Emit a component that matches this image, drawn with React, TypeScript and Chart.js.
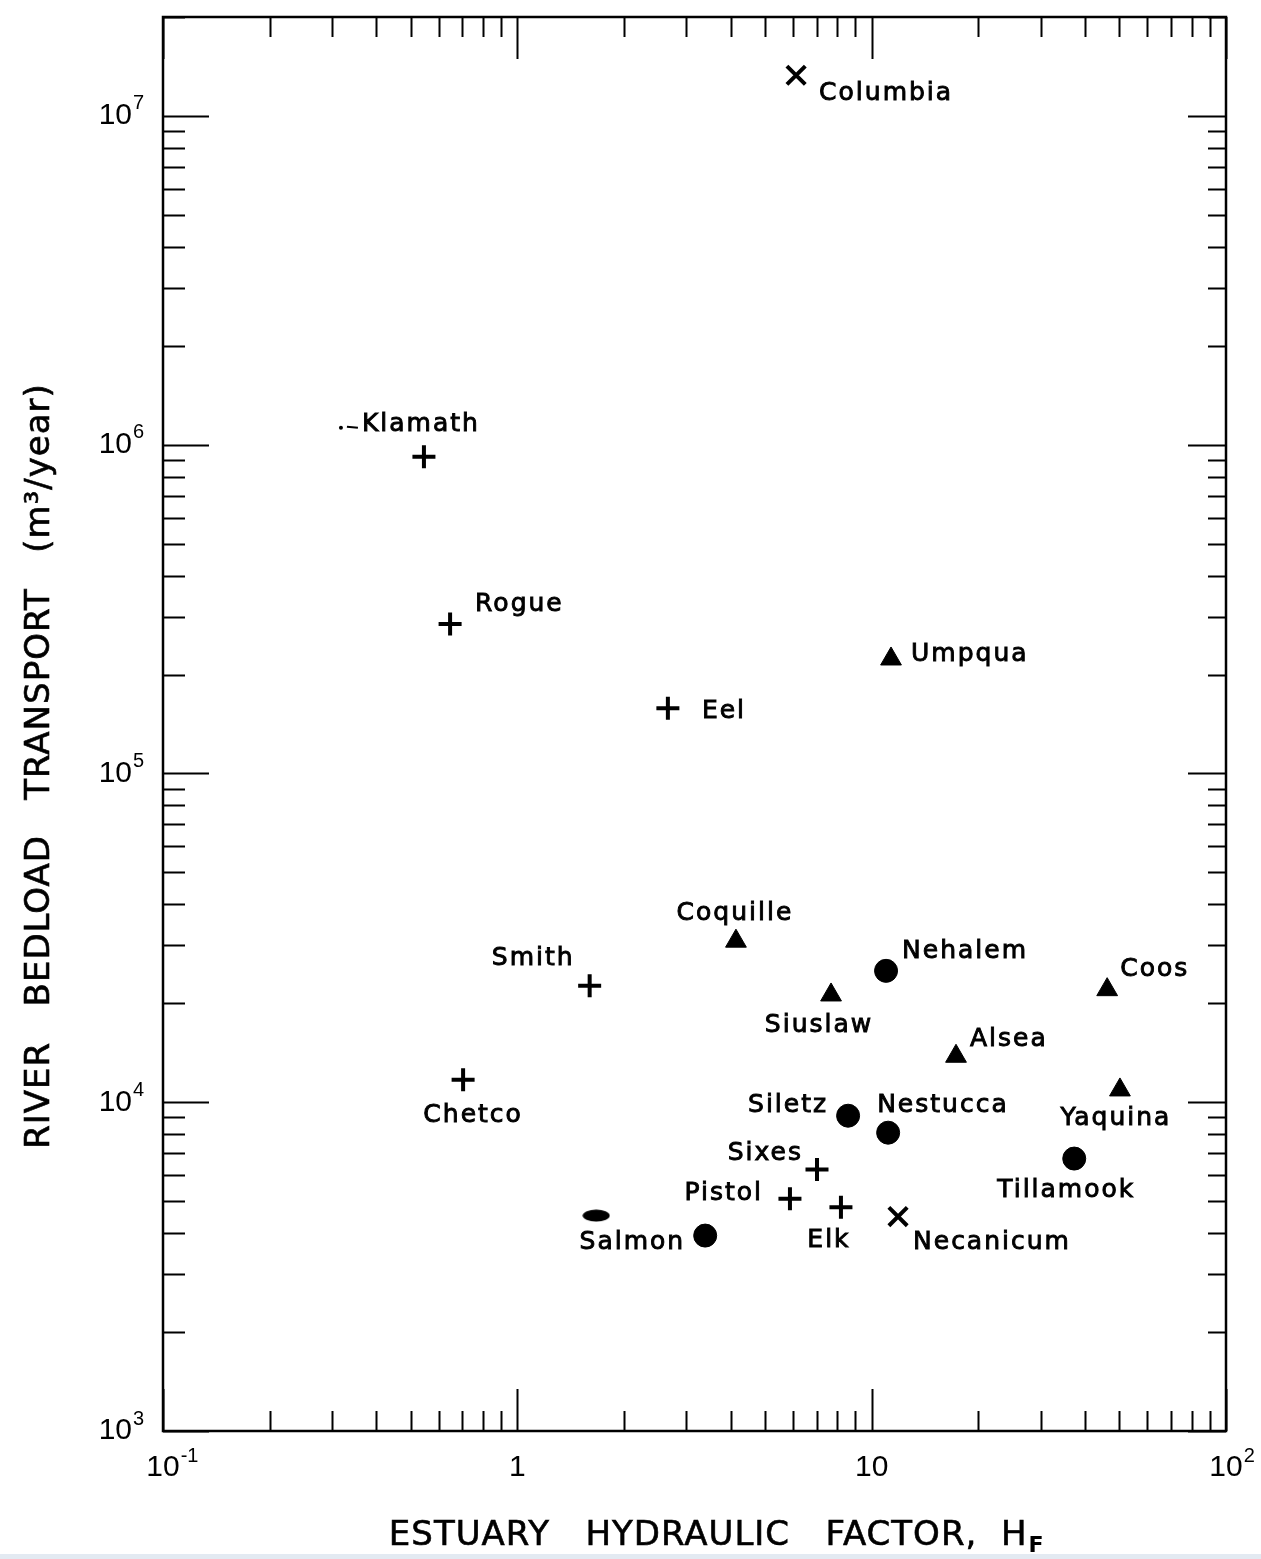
import React, { useEffect, useRef } from 'react';
import { Chart, registerables } from 'chart.js';

Chart.register(...registerables);

// ---- Data ----
// "+" symbols
const plusNames = ['Klamath', 'Rogue', 'Eel', 'Smith', 'Chetco', 'Sixes', 'Pistol', 'Elk'];
const plusX = [0.545, 0.646, 2.66, 1.6, 0.703, 7.01, 5.88, 8.19];
const plusY = [9.2e5, 2.85e5, 1.58e5, 2.26e4, 1.17e4, 6.24e3, 5.09e3, 4.79e3];

// filled triangles
const triNames = ['Umpqua', 'Coquille', 'Siuslaw', 'Coos', 'Alsea', 'Yaquina'];
const triX = [11.34, 4.14, 7.68, 46.2, 17.3, 50.2];
const triY = [2.23e5, 3.09e4, 2.12e4, 2.2e4, 1.38e4, 1.09e4];

// filled circles
const dotNames = ['Nehalem', 'Siletz', 'Nestucca', 'Tillamook', 'Salmon'];
const dotX = [10.98, 8.58, 11.13, 37.3, 3.39];
const dotY = [2.51e4, 9.1e3, 8.08e3, 6.74e3, 3.93e3];

// "x" symbols
const xNames = ['Columbia', 'Necanicum'];
const xX = [6.12, 11.87];
const xY = [1.33e7, 4.49e3];

// unlabeled smudge mark
const blobX = [1.67];
const blobY = [4.52e3];

// axes
const xMin = 0.1;
const xMax = 100;
const yMin = 1e3;
const yMax = 2.0e7;
const xTickValues = [0.1, 1, 10, 100];
const xTickBase = ['10', '1', '10', '10'];
const xTickSup = ['-1', '', '', '2'];
const yTickValues = [1e3, 1e4, 1e5, 1e6, 1e7];
const yTickBase = ['10', '10', '10', '10', '10'];
const yTickSup = ['3', '4', '5', '6', '7'];
const xTitle = 'ESTUARY   HYDRAULIC   FACTOR,  H';
const xTitleSub = 'F';
const yTitle = 'RIVER   BEDLOAD   TRANSPORT   (m\u00B3/year)';

// ---- Label layout (pixel offsets from each marker) ----
type LabelPos = { dx: number; dy: number; align: CanvasTextAlign };
const LABEL_LAYOUT: Record<string, LabelPos> = {
  Columbia: { dx: 23, dy: 18, align: 'left' },
  Klamath: { dx: -62, dy: -32, align: 'left' },
  Rogue: { dx: 25, dy: -19, align: 'left' },
  Eel: { dx: 34, dy: 3, align: 'left' },
  Umpqua: { dx: 20, dy: -4, align: 'left' },
  Coquille: { dx: -1, dy: -28, align: 'center' },
  Smith: { dx: -15, dy: -27, align: 'right' },
  Nehalem: { dx: 16, dy: -19, align: 'left' },
  Siuslaw: { dx: -12, dy: 31, align: 'center' },
  Coos: { dx: 13, dy: -20, align: 'left' },
  Alsea: { dx: 14, dy: -17, align: 'left' },
  Chetco: { dx: 10, dy: 36, align: 'center' },
  Yaquina: { dx: -4, dy: 29, align: 'center' },
  Siletz: { dx: -20, dy: -10, align: 'right' },
  Nestucca: { dx: -11, dy: -27, align: 'left' },
  Tillamook: { dx: -8, dy: 32, align: 'center' },
  Sixes: { dx: -14, dy: -16, align: 'right' },
  Pistol: { dx: -27, dy: -5, align: 'right' },
  Salmon: { dx: -20, dy: 7, align: 'right' },
  Elk: { dx: -12, dy: 33, align: 'center' },
  Necanicum: { dx: 15, dy: 26, align: 'left' },
};

const toPts = (xs: number[], ys: number[]) => xs.map((x, i) => ({ x, y: ys[i] }));

export default function App() {
  const ref = useRef<HTMLCanvasElement>(null);

  useEffect(() => {
    const canvas = ref.current;
    if (!canvas) return;

    const blob = document.createElement('canvas');
    blob.width = 28;
    blob.height = 13;
    const bctx = blob.getContext('2d');
    if (bctx) {
      bctx.fillStyle = '#000';
      bctx.beginPath();
      bctx.ellipse(14, 6.5, 13.5, 6, 0, 0, Math.PI * 2);
      bctx.fill();
    }

    const groups: { names: string[]; xs: number[]; ys: number[] }[] = [
      { names: plusNames, xs: plusX, ys: plusY },
      { names: triNames, xs: triX, ys: triY },
      { names: dotNames, xs: dotX, ys: dotY },
      { names: xNames, xs: xX, ys: xY },
    ];

    const decor = {
      id: 'decor',
      afterDatasetsDraw(chart: any) {
        const { ctx, chartArea: a } = chart;
        const xs = chart.scales.x;
        const ys = chart.scales.y;
        ctx.save();
        ctx.strokeStyle = '#000';
        ctx.fillStyle = '#000';

        // frame
        ctx.lineWidth = 2.5;
        ctx.strokeRect(a.left, a.top, a.right - a.left, a.bottom - a.top);

        // ticks (inward, all four sides)
        ctx.lineWidth = 2;
        const major = 42;
        const minor = 20;
        for (let e = -1; e <= 2; e++) {
          for (let m = 1; m <= 9; m++) {
            const v = m * Math.pow(10, e);
            if (v < xMin * 0.999 || v > xMax * 1.001) continue;
            const px = Math.round(xs.getPixelForValue(v)) + 0.5;
            const len = m === 1 ? major : minor;
            ctx.beginPath();
            ctx.moveTo(px, a.bottom);
            ctx.lineTo(px, a.bottom - len);
            ctx.moveTo(px, a.top);
            ctx.lineTo(px, a.top + len);
            ctx.stroke();
          }
        }
        for (let e = 3; e <= 7; e++) {
          for (let m = 1; m <= 9; m++) {
            const v = m * Math.pow(10, e);
            if (v < yMin * 0.999 || v > yMax * 1.001) continue;
            const py = Math.round(ys.getPixelForValue(v)) + 0.5;
            const lenL = m === 1 ? 46 : 22;
            const lenR = m === 1 ? 38 : 18;
            ctx.beginPath();
            ctx.moveTo(a.left, py);
            ctx.lineTo(a.left + lenL, py);
            ctx.moveTo(a.right, py);
            ctx.lineTo(a.right - lenR, py);
            ctx.stroke();
          }
        }

        // tick labels
        ctx.textBaseline = 'middle';
        ctx.textAlign = 'left';
        xTickValues.forEach((v, i) => {
          const px = xs.getPixelForValue(v);
          ctx.font = '30px "Liberation Sans"';
          const bw = ctx.measureText(xTickBase[i]).width;
          const yy = a.bottom + 37;
          ctx.fillText(xTickBase[i], px - bw / 2, yy);
          if (xTickSup[i]) {
            ctx.font = '20px "Liberation Sans"';
            ctx.fillText(xTickSup[i], px + bw / 2 + 1, yy - 12);
          }
        });
        yTickValues.forEach((v, i) => {
          const py = ys.getPixelForValue(v);
          ctx.font = '30px "Liberation Sans"';
          const bw = ctx.measureText(yTickBase[i]).width;
          const right = a.left - 31;
          ctx.fillText(yTickBase[i], right - bw, py);
          ctx.font = '20px "Liberation Sans"';
          ctx.fillText(yTickSup[i], right + 1, py - 12);
        });

        // point labels
        ctx.font = '25px "DejaVu Sans"';
        (ctx as any).letterSpacing = '2px';
        ctx.lineWidth = 0.9;
        groups.forEach((g) => {
          g.names.forEach((name, i) => {
            const lay = LABEL_LAYOUT[name];
            if (!lay) return;
            const px = xs.getPixelForValue(g.xs[i]);
            const py = ys.getPixelForValue(g.ys[i]);
            ctx.textAlign = lay.align;
            ctx.fillText(name, px + lay.dx, py + lay.dy);
            ctx.strokeText(name, px + lay.dx, py + lay.dy);
            if (name === 'Klamath') {
              ctx.beginPath();
              ctx.arc(px + lay.dx - 21, py + lay.dy + 3, 2, 0, Math.PI * 2);
              ctx.fill();
              ctx.lineWidth = 2;
              ctx.beginPath();
              ctx.moveTo(px + lay.dx - 15, py + lay.dy + 2);
              ctx.lineTo(px + lay.dx - 4, py + lay.dy + 3);
              ctx.stroke();
              ctx.lineWidth = 0.9;
            }
          });
        });
        (ctx as any).letterSpacing = '0px';

        // axis titles
        ctx.textBaseline = 'alphabetic';
        ctx.textAlign = 'left';
        ctx.lineWidth = 0.6;
        ctx.font = '34px "DejaVu Sans"';
        (ctx as any).letterSpacing = '1px';
        const w1 = ctx.measureText(xTitle).width;
        ctx.font = '22px "DejaVu Sans"';
        const w2 = ctx.measureText(xTitleSub).width;
        const start = 715 - (w1 + w2) / 2;
        ctx.font = '34px "DejaVu Sans"';
        ctx.fillText(xTitle, start, a.bottom + 114);
        ctx.strokeText(xTitle, start, a.bottom + 114);
        ctx.font = 'bold 22px "DejaVu Sans"';
        ctx.fillText(xTitleSub, start + w1 + 1, a.bottom + 121);

        ctx.translate(49, 766);
        ctx.rotate(-Math.PI / 2);
        ctx.textAlign = 'center';
        ctx.font = '34px "DejaVu Sans"';
        ctx.fillText(yTitle, 0, 0);
        ctx.strokeText(yTitle, 0, 0);
        (ctx as any).letterSpacing = '0px';
        ctx.restore();
      },
    };

    const chart = new Chart(canvas, {
      type: 'scatter',
      data: {
        datasets: [
          {
            label: 'plus',
            data: toPts(plusX, plusY),
            pointStyle: 'cross',
            pointRadius: 11.5,
            pointBorderWidth: 4,
            pointBorderColor: '#000',
            pointBackgroundColor: '#000',
          },
          {
            label: 'triangle',
            data: toPts(triX, triY),
            pointStyle: 'triangle',
            pointRadius: 12,
            pointBorderWidth: 1,
            pointBorderColor: '#000',
            pointBackgroundColor: '#000',
          },
          {
            label: 'circle',
            data: toPts(dotX, dotY),
            pointStyle: 'circle',
            pointRadius: 11.5,
            pointBorderWidth: 1,
            pointBorderColor: '#000',
            pointBackgroundColor: '#000',
          },
          {
            label: 'x',
            data: toPts(xX, xY),
            pointStyle: 'crossRot',
            pointRadius: 13,
            pointBorderWidth: 4,
            pointBorderColor: '#000',
            pointBackgroundColor: '#000',
          },
          {
            label: 'blob',
            data: toPts(blobX, blobY),
            pointStyle: blob as any,
            pointRadius: 10,
            pointBorderWidth: 0,
          },
        ] as any,
      },
      options: {
        responsive: false,
        animation: false,
        layout: { padding: { left: 163, right: 35, top: 13, bottom: 128 } },
        plugins: { legend: { display: false }, tooltip: { enabled: false } },
        scales: {
          x: { type: 'logarithmic', display: false, min: xMin, max: xMax },
          y: { type: 'logarithmic', display: false, min: yMin, max: yMax },
        },
      },
      plugins: [decor],
    });

    return () => chart.destroy();
  }, []);

  return (
    <div style={{ position: 'absolute', left: 0, top: 0, width: 1261, height: 1559, background: '#fff' }}>
      <canvas ref={ref} width={1261} height={1559} style={{ display: 'block' }} />
      <div style={{ position: 'absolute', left: 0, top: 1554, width: 1261, height: 5, background: '#e3eaf2' }} />
    </div>
  );
}
